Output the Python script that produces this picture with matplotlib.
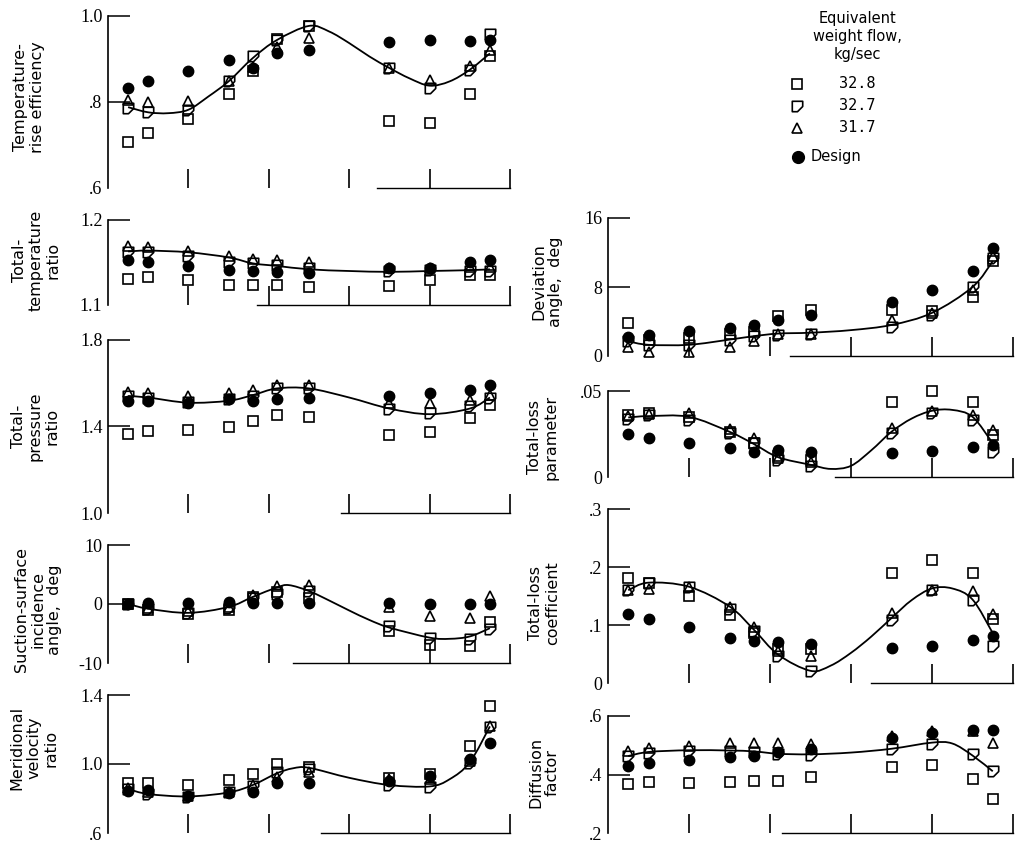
import matplotlib
matplotlib.use("Agg")
import matplotlib.pyplot as plt
from matplotlib.path import Path
from matplotlib.patches import PathPatch

# measuring stations, percent of passage height
stations = [5, 10, 20, 30, 36, 42, 50, 70, 80, 90, 95]
flows = ["32.8", "32.7", "31.7"]

# temperature-rise efficiency
eff_sq = [.708, .729, .760, .819, .871, .946, .977, .755, .752, .819, .907]
eff_fl = [.786, .776, .782, .848, .906, .944, .977, .879, .832, .875, .958]
eff_tri = [.805, .801, .803, .848, .882, .929, .948, .879, .851, .884, .920]
eff_des = [.832, .848, .872, .898, .880, .913, .921, .940, .944, .943, .944]
eff_cx = [5, 10, 15, 20, 25, 30, 36, 42, 50, 55, 60, 65, 70, 75, 80, 85, 90, 95]
eff_cy = [.788, .776, .774, .782, .813, .848, .902, .944, .977, .964, .937, .906, .879, .855, .838, .848, .875, .913]

# total-temperature ratio
ttr_sq = [1.131, 1.133, 1.130, 1.123, 1.123, 1.123, 1.121, 1.122, 1.130, 1.135, 1.135]
ttr_fl = [1.162, 1.162, 1.158, 1.151, 1.149, 1.147, 1.143, 1.140, 1.141, 1.140, 1.140]
ttr_tri = [1.170, 1.168, 1.164, 1.158, 1.154, 1.153, 1.151, 1.144, 1.143, 1.145, 1.145]
ttr_des = [1.153, 1.151, 1.146, 1.141, 1.140, 1.139, 1.138, 1.143, 1.143, 1.151, 1.153]
ttr_cx = [5, 10, 20, 30, 36, 42, 50, 60, 70, 80, 90, 95]
ttr_cy = [1.163, 1.164, 1.162, 1.156, 1.149, 1.146, 1.142, 1.140, 1.139, 1.140, 1.141, 1.142]

# total-pressure ratio
tpr_sq = [1.364, 1.378, 1.383, 1.398, 1.426, 1.452, 1.445, 1.360, 1.375, 1.437, 1.499]
tpr_fl = [1.541, 1.534, 1.515, 1.525, 1.541, 1.576, 1.576, 1.479, 1.463, 1.494, 1.534]
tpr_tri = [1.561, 1.556, 1.541, 1.556, 1.568, 1.594, 1.594, 1.507, 1.507, 1.522, 1.545]
tpr_des = [1.519, 1.517, 1.510, 1.525, 1.519, 1.525, 1.530, 1.541, 1.556, 1.571, 1.591]
tpr_cx = [5, 10, 20, 30, 36, 42, 50, 60, 70, 80, 90, 95]
tpr_cy = [1.541, 1.534, 1.510, 1.519, 1.545, 1.576, 1.576, 1.534, 1.483, 1.457, 1.483, 1.534]

# suction-surface incidence angle, deg
inc_sq = [0, -1.1, -1.7, -1.1, 1.2, 2.1, 1.0, -4.6, -6.9, -7.2, -3.1]
inc_fl = [0, -0.8, -1.5, -0.6, 1.0, 1.7, 2.2, -3.8, -5.7, -6.0, -4.3]
inc_tri = [0, -0.7, -1.2, -0.5, 1.6, 3.1, 3.2, -0.5, -2.1, -2.4, 1.3]
inc_des = [0, 0.2, 0.2, 0.3, 0.1, 0.2, 0.1, 0.2, 0, 0, 0]
inc_cx = [5, 10, 20, 30, 36, 42, 45, 50, 55, 60, 65, 70, 80, 85, 90, 95]
inc_cy = [0, -0.8, -1.5, -0.5, 1.2, 2.8, 3.2, 2.2, 0.6, -1.1, -2.7, -4.0, -5.7, -5.9, -5.5, -4.1]

# meridional velocity ratio
mvr_sq = [.889, .889, .877, .906, .941, 1.0, .985, .916, .941, 1.107, 1.337]
mvr_fl = [.855, .826, .807, .835, .874, .954, .973, .878, .864, 1.004, 1.214]
mvr_tri = [.862, .840, .812, .838, .878, .925, .954, .912, .912, 1.018, 1.222]
mvr_des = [.845, .849, .816, .832, .835, .889, .889, .902, .931, 1.031, 1.119]
mvr_cx = [5, 10, 20, 30, 36, 42, 46, 50, 60, 70, 80, 85, 90, 95]
mvr_cy = [.855, .826, .812, .835, .878, .946, .975, .978, .920, .878, .870, .912, 1.010, 1.218]

# deviation angle, deg
dev_sq = [3.8, 1.9, 2.1, 2.6, 2.8, 4.6, 5.3, 5.3, 5.2, 6.8, 11.0]
dev_fl = [1.7, 1.3, 1.3, 1.9, 2.3, 2.4, 2.6, 3.4, 4.8, 8.0, 11.4]
dev_tri = [1.1, 0.5, 0.5, 1.1, 1.7, 2.5, 2.6, 4.2, 5.0, 7.7, 11.6]
dev_des = [2.2, 2.4, 2.9, 3.2, 3.6, 4.2, 4.8, 6.3, 7.7, 9.9, 12.5]
dev_cx = [5, 10, 20, 30, 36, 42, 50, 60, 70, 80, 90, 95]
dev_cy = [1.7, 1.3, 1.3, 1.9, 2.3, 2.6, 2.7, 3.0, 3.6, 5.0, 8.0, 11.0]

# total-loss parameter
tlp_sq = [.036, .037, .035, .026, .020, .0123, .010, .0437, .050, .0437, .0244]
tlp_fl = [.0335, .036, .033, .0254, .020, .010, .0062, .0258, .0373, .033, .0148]
tlp_tri = [.0355, .0365, .037, .0277, .0225, .011, .009, .0283, .0385, .036, .0273]
tlp_des = [.025, .0225, .020, .0167, .0148, .0158, .0148, .0142, .0152, .0177, .0187]
tlp_cx = [5, 10, 20, 30, 36, 42, 50, 55, 60, 65, 70, 75, 80, 85, 90, 95]
tlp_cy = [.0346, .0354, .035, .0263, .0192, .0115, .0071, .0047, .0065, .0155, .0263, .034, .0385, .039, .035, .0196]

# total-loss coefficient
tlc_sq = [.1805, .173, .150, .117, .087, .058, .058, .190, .212, .189, .110]
tlc_fl = [.160, .173, .166, .128, .089, .046, .020, .108, .160, .143, .063]
tlc_tri = [.160, .162, .165, .131, .097, .056, .046, .120, .160, .158, .119]
tlc_des = [.119, .111, .096, .077, .072, .070, .068, .060, .063, .0745, .081]
tlc_cx = [5, 10, 20, 30, 36, 42, 50, 55, 60, 65, 70, 75, 80, 85, 90, 95]
tlc_cy = [.160, .173, .166, .132, .092, .049, .021, .030, .052, .080, .112, .143, .163, .163, .144, .086]

# diffusion factor
dfa_sq = [.368, .375, .371, .375, .377, .379, .391, .426, .432, .385, .317]
dfa_fl = [.463, .474, .480, .480, .478, .469, .465, .488, .503, .469, .411]
dfa_tri = [.480, .491, .497, .506, .506, .506, .503, .530, .548, .548, .509]
dfa_des = [.429, .438, .449, .459, .463, .477, .486, .526, .543, .551, .552]
dfa_cx = [5, 10, 20, 30, 36, 42, 50, 60, 70, 80, 85, 90, 95]
dfa_cy = [.463, .477, .483, .482, .479, .471, .469, .475, .488, .509, .506, .465, .411]

W, H = 1028, 844
fig = plt.figure(figsize=(W / 100, H / 100), dpi=100)

# square with the lower right corner cut off
flag = Path([(-1, 1), (1, 1), (1, 0), (0, -1), (-1, -1), (-1, 1)],
            [Path.MOVETO] + [Path.LINETO] * 4 + [Path.CLOSEPOLY])
styles = [dict(marker="s", ms=6.5), dict(marker=flag, ms=7.5), dict(marker="^", ms=7.5)]


def faired(xs, ys):
    # smooth bezier through the faired-curve nodes
    pts = list(zip(xs, ys))
    n = len(pts)
    verts, codes = [pts[0]], [Path.MOVETO]
    for i in range(n - 1):
        p0, p1 = pts[max(i - 1, 0)], pts[i]
        p2, p3 = pts[i + 1], pts[min(i + 2, n - 1)]
        c1 = (p1[0] + (p2[0] - p0[0]) / 6, p1[1] + (p2[1] - p0[1]) / 6)
        c2 = (p2[0] - (p3[0] - p1[0]) / 6, p2[1] - (p3[1] - p1[1]) / 6)
        verts += [c1, c2, p2]
        codes += [Path.CURVE4] * 3
    return Path(verts, codes)


def panel(px, ylim, ticks, ticklabels, base, sq, fl, tri, des, cx, cy, label, lx, ly):
    l, t, r, b = px
    ax = fig.add_axes([l / W, 1 - b / H, (r - l) / W, (b - t) / H])
    ax.set_xlim(0, 100)
    ax.set_ylim(*ylim)
    ax.add_patch(PathPatch(faired(cx, cy), fill=False, lw=1.3, ec="black", zorder=2))
    ax.plot(stations, des, "o", ms=7.5, color="black", zorder=3, clip_on=False)
    for vals, st in zip([sq, fl, tri], styles):
        ax.plot(stations, vals, ls="none", mfc="none", mec="black", mew=1.2,
                zorder=4, clip_on=False, **st)
    for s in ["top", "right"]:
        ax.spines[s].set_visible(False)
    ax.spines["left"].set_linewidth(1.2)
    ax.spines["bottom"].set_linewidth(1.0)
    ax.spines["bottom"].set_bounds(base, 100)
    ax.set_xticks([20, 40, 60, 80, 100])
    ax.tick_params(axis="x", direction="in", length=14, width=1.2, labelbottom=False)
    ax.set_yticks(ticks)
    ax.set_yticklabels(ticklabels, fontfamily="Liberation Serif", fontsize=13)
    ax.tick_params(axis="y", direction="in", length=16, width=1.1, pad=4)
    ax.yaxis.get_major_ticks()[0].tick1line.set_visible(False)
    fig.text(lx / W, 1 - ly / H, label, rotation=90, ha="center", va="center",
             multialignment="center", fontsize=11.5, linespacing=1.15)
    return ax


L = (108, 510)
R = (608, 1013)
panel((L[0], 16, L[1], 188), (0.6, 1.0), [0.6, 0.8, 1.0], [".6", ".8", "1.0"], 67,
      eff_sq, eff_fl, eff_tri, eff_des, eff_cx, eff_cy,
      "Temperature-\nrise efficiency", 29, 97)
panel((L[0], 220, L[1], 305), (1.1, 1.2), [1.1, 1.2], ["1.1", "1.2"], 37,
      ttr_sq, ttr_fl, ttr_tri, ttr_des, ttr_cx, ttr_cy,
      "Total-\ntemperature\nratio", 36, 260)
panel((L[0], 340, L[1], 513), (1.0, 1.8), [1.0, 1.4, 1.8], ["1.0", "1.4", "1.8"], 58,
      tpr_sq, tpr_fl, tpr_tri, tpr_des, tpr_cx, tpr_cy,
      "Total-\npressure\nratio", 35, 426)
panel((L[0], 545, L[1], 663), (-10, 10), [-10, 0, 10], ["-10", "0", "10"], 46,
      inc_sq, inc_fl, inc_tri, inc_des, inc_cx, inc_cy,
      "Suction-surface\nincidence\nangle,  deg", 38, 610)
panel((L[0], 695, L[1], 833), (0.6, 1.4), [0.6, 1.0, 1.4], [".6", "1.0", "1.4"], 53,
      mvr_sq, mvr_fl, mvr_tri, mvr_des, mvr_cx, mvr_cy,
      "Meridional\nvelocity\nratio", 34, 748)
panel((R[0], 218, R[1], 356), (0, 16), [0, 8, 16], ["0", "8", "16"], 45,
      dev_sq, dev_fl, dev_tri, dev_des, dev_cx, dev_cy,
      "Deviation\nangle,  deg", 547, 282)
panel((R[0], 391, R[1], 477), (0, 0.05), [0, 0.05], ["0", ".05"], 56,
      tlp_sq, tlp_fl, tlp_tri, tlp_des, tlp_cx, tlp_cy,
      "Total-loss\nparameter", 543, 437)
panel((R[0], 509, R[1], 683), (0, 0.3), [0, 0.1, 0.2, 0.3], ["0", ".1", ".2", ".3"], 65,
      tlc_sq, tlc_fl, tlc_tri, tlc_des, tlc_cx, tlc_cy,
      "Total-loss\ncoefficient", 544, 603)
panel((R[0], 716, R[1], 833), (0.2, 0.6), [0.2, 0.4, 0.6], [".2", ".4", ".6"], 43,
      dfa_sq, dfa_fl, dfa_tri, dfa_des, dfa_cx, dfa_cy,
      "Diffusion\nfactor", 544, 772)

# key, laid out in pixel coordinates
key = fig.add_axes([0, 0, 1, 1])
key.set_axis_off()
key.set_xlim(0, W)
key.set_ylim(H, 0)
key.text(857, 37, "Equivalent\nweight flow,\nkg/sec", ha="center", va="center",
         fontsize=10.5, linespacing=1.25)
for i, (lab, st) in enumerate(zip(flows, styles)):
    y = 84 + 22 * i
    key.plot([797], [y], ls="none", mfc="none", mec="black", mew=1.2, **st)
    key.text(857, y, lab, ha="center", va="center", fontsize=11, fontfamily="DejaVu Sans Mono")
key.plot([798], [157], "o", ms=8.5, color="black")
key.text(811, 157, "Design", ha="left", va="center", fontsize=10.5)

fig.savefig("out.png", dpi=100)
